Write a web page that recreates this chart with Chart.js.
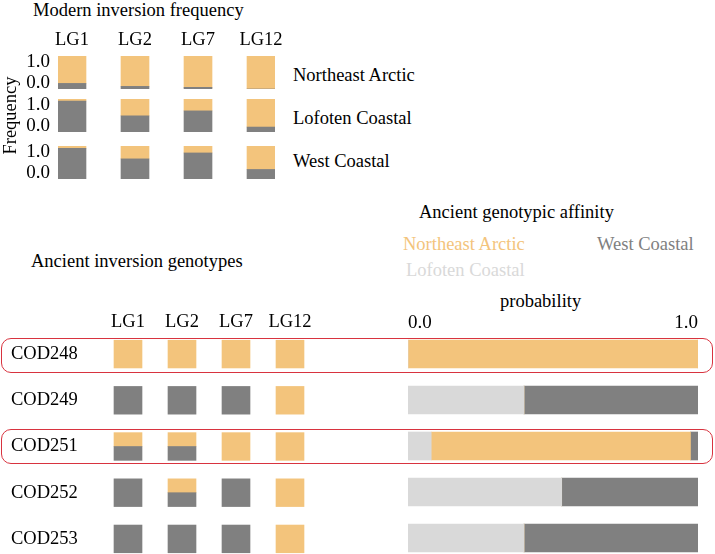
<!DOCTYPE html>
<html>
<head>
<meta charset="utf-8">
<title>Inversion frequency and genotypic affinity</title>
<script src="https://cdn.jsdelivr.net/npm/chart.js@4.4.1/dist/chart.umd.min.js"></script>
<style>
    html, body { margin: 0; padding: 0; width: 715px; height: 554px; overflow: hidden; background: #fff; }
    body { position: relative; font-family: 'Liberation Serif', 'Times New Roman', serif; color: #000; }
    .txt { position: absolute; font-size: 18.5px; line-height: 18.5px; white-space: nowrap; }
    canvas { position: absolute; }
    .box { position: absolute; border: 1.5px solid #d8333f; border-radius: 10px; box-sizing: border-box; }
</style>
</head>
<body>

<div class="txt" style="left:33px; top:1px;">Modern inversion frequency</div>
<div class="txt" style="left:293px; top:66px;">Northeast Arctic</div>
<div class="txt" style="left:293px; top:109px;">Lofoten Coastal</div>
<div class="txt" style="left:293px; top:152px;">West Coastal</div>

<div class="txt" style="left:419px; top:203px;">Ancient genotypic affinity</div>
<div class="txt" style="left:403px; top:235px; color:#f3c47c;">Northeast Arctic</div>
<div class="txt" style="left:597px; top:235px; color:#808080;">West Coastal</div>
<div class="txt" style="left:406px; top:261px; color:#d9d9d9;">Lofoten Coastal</div>
<div class="txt" style="left:500px; top:292px;">probability</div>
<div class="txt" style="left:31px; top:252px;">Ancient inversion genotypes</div>

<canvas id="modern-ne" width="295" height="73" style="left:0; top:26px;"></canvas>
<canvas id="modern-lof" width="295" height="90" style="left:0; top:70px;"></canvas>
<canvas id="modern-wc" width="295" height="53" style="left:0; top:136px;"></canvas>
<canvas id="ancient-geno" width="316" height="254" style="left:11px; top:308px;"></canvas>
<canvas id="ancient-aff" width="290" height="260" style="left:408px; top:301px;"></canvas>

<div class="box" style="left:1px; top:338px; width:712px; height:35px;"></div>
<div class="box" style="left:1px; top:429px; width:712px; height:35px;"></div>

<script>
// Modern inversion frequency (grey = inverted share, orange = rest)
const loci = ['LG1', 'LG2', 'LG7', 'LG12'];
const freqNortheastArctic = [0.17, 0.08, 0.05, 0.00];
const freqLofotenCoastal = [0.94, 0.49, 0.64, 0.15];
const freqWestCoastal = [0.93, 0.61, 0.79, 0.29];

// Ancient inversion genotypes (share of grey in each square, per locus)
const samples = ['COD248', 'COD249', 'COD251', 'COD252', 'COD253'];
const genoCOD248 = [0, 0, 0, 0];
const genoCOD249 = [1, 1, 1, 0];
const genoCOD251 = [0.5, 0.5, 0, 0];
const genoCOD252 = [1, 0.5, 1, 0];
const genoCOD253 = [1, 1, 1, 0];

// Ancient genotypic affinity, probability per sample
const affLofotenCoastal = [0.00, 0.40, 0.08, 0.53, 0.40];
const affNortheastArctic = [1.00, 0.00, 0.894, 0.00, 0.00];
const affWestCoastal = [0.00, 0.60, 0.026, 0.47, 0.60];

const ORANGE = '#f3c47c';
const GRAY = '#808080';
const LIGHT = '#d9d9d9';

Chart.defaults.font.family = "'Liberation Serif', 'Times New Roman', serif";
Chart.defaults.font.size = 18.5;
Chart.defaults.color = '#000';
Chart.defaults.animation = false;
Chart.defaults.plugins.legend.display = false;
Chart.defaults.plugins.tooltip.enabled = false;

// pin axis size so the plot areas land where they should
function fixAxis(size) {
    return function (scale) {
        if (scale.isHorizontal()) scale.height = size;
        else scale.width = size;
        scale.paddingTop = 0;
        scale.paddingBottom = 0;
        scale.paddingLeft = 0;
        scale.paddingRight = 0;
    };
}

const noGrid = { display: false, drawTicks: false };

function modernChart(id, inverted, showLoci, yTitle, pad) {
    new Chart(document.getElementById(id), {
        type: 'bar',
        data: {
            datasets: [
                { data: inverted.map((v, i) => ({ x: i, y: v })), backgroundColor: GRAY },
                { data: inverted.map((v, i) => ({ x: i, y: 1 - v })), backgroundColor: ORANGE }
            ]
        },
        options: {
            responsive: false,
            events: [],
            layout: { padding: pad },
            datasets: { bar: { barThickness: 28 } },
            scales: {
                x: {
                    type: 'linear',
                    position: 'top',
                    display: showLoci,
                    offset: false,
                    min: -0.222,
                    max: 3.222,
                    stacked: true,
                    grid: noGrid,
                    border: { display: false },
                    afterBuildTicks: s => { s.ticks = loci.map((_, i) => ({ value: i })); },
                    ticks: { padding: 7, font: { size: 18.5, lineHeight: 1 }, callback: v => loci[v] },
                    afterFit: fixAxis(showLoci ? 30 : 0)
                },
                y: {
                    min: 0,
                    max: 1,
                    stacked: true,
                    grid: noGrid,
                    border: { display: false },
                    ticks: {
                        stepSize: 1,
                        autoSkip: false,
                        padding: 8,
                        font: { size: 19, lineHeight: 0.65 },
                        // labels sit just inside the bar, like the original
                        callback: v => v === 1 ? ['', '1.0'] : ['0.0', '']
                    },
                    title: { display: !!yTitle, text: yTitle, padding: 0, font: { size: 18.5 } },
                    afterFit: fixAxis(58)
                }
            }
        }
    });
}

modernChart('modern-ne', freqNortheastArctic, true, '', { right: 20, bottom: 10 });
modernChart('modern-lof', freqLofotenCoastal, false, 'Frequency', { top: 29, bottom: 28, right: 20 });
modernChart('modern-wc', freqWestCoastal, false, '', { top: 10, bottom: 10, right: 20 });

// Ancient genotypes: one row per sample, square = [r+0.2, r+0.8], grey fills from the bottom
const genotypes = [genoCOD248, genoCOD249, genoCOD251, genoCOD252, genoCOD253];
const grayCells = [];
const orangeCells = [];
genotypes.forEach((row, r) => {
    row.forEach((g, c) => {
        const split = r + 0.8 - 0.6 * g;
        if (g > 0) grayCells.push({ x: c, y: [split, r + 0.8] });
        if (g < 1) orangeCells.push({ x: c, y: [r + 0.2, split] });
    });
});

new Chart(document.getElementById('ancient-geno'), {
    type: 'bar',
    data: {
        datasets: [
            { data: grayCells, backgroundColor: GRAY },
            { data: orangeCells, backgroundColor: ORANGE }
        ]
    },
    options: {
        responsive: false,
        events: [],
        layout: { padding: { right: 10 } },
        datasets: { bar: { barThickness: 28, grouped: false } },
        scales: {
            x: {
                type: 'linear',
                position: 'top',
                offset: false,
                min: -0.5,
                max: 3.5,
                grid: noGrid,
                border: { display: false },
                afterBuildTicks: s => { s.ticks = loci.map((_, i) => ({ value: i })); },
                ticks: { padding: 0, font: { size: 18.5, lineHeight: 1 }, callback: v => loci[v] },
                afterFit: fixAxis(23)
            },
            y: {
                min: 0,
                max: 5,
                reverse: true,
                grid: noGrid,
                border: { display: false },
                afterBuildTicks: s => { s.ticks = samples.map((_, i) => ({ value: i + 0.5 })); },
                ticks: { crossAlign: 'far', autoSkip: false, font: { size: 18.5 }, callback: (v, i) => samples[i] },
                afterFit: fixAxis(90)
            }
        }
    }
});

// Ancient genotypic affinity
new Chart(document.getElementById('ancient-aff'), {
    type: 'bar',
    data: {
        labels: samples,
        datasets: [
            { label: 'Lofoten Coastal', data: affLofotenCoastal, backgroundColor: LIGHT },
            { label: 'Northeast Arctic', data: affNortheastArctic, backgroundColor: ORANGE },
            { label: 'West Coastal', data: affWestCoastal, backgroundColor: GRAY }
        ]
    },
    options: {
        indexAxis: 'y',
        responsive: false,
        events: [],
        datasets: { bar: { barThickness: 28 } },
        scales: {
            x: {
                position: 'top',
                min: 0,
                max: 1,
                stacked: true,
                grid: noGrid,
                border: { display: false },
                ticks: {
                    stepSize: 1,
                    align: 'inner',
                    padding: -2,
                    font: { size: 19, lineHeight: 1 },
                    callback: v => v.toFixed(1)
                },
                afterFit: fixAxis(30)
            },
            y: { stacked: true, display: false }
        }
    }
});
</script>
</body>
</html>
